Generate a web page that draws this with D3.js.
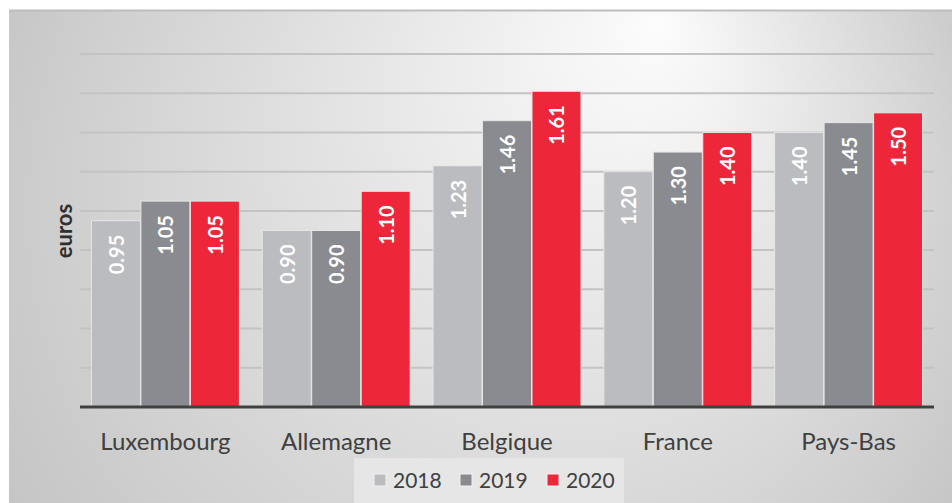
<!DOCTYPE html>
<html>
<head>
<meta charset="utf-8">
<script src="https://cdn.jsdelivr.net/npm/d3@7"></script>
<style>
  body { margin: 0; background: #fff; }
  svg { display: block; }
</style>
</head>
<body>
<svg id="chart" width="952" height="503"></svg>
<script>
// data
const countries = ["Luxembourg", "Allemagne", "Belgique", "France", "Pays-Bas"]
const years = ["2018", "2019", "2020"]
const values2018 = [0.95, 0.90, 1.23, 1.20, 1.40]
const values2019 = [1.05, 0.90, 1.46, 1.30, 1.45]
const values2020 = [1.05, 1.10, 1.61, 1.40, 1.50]
const yTicks = [0, 0.2, 0.4, 0.6, 0.8, 1.0, 1.2, 1.4, 1.6, 1.8]

const colors = {"2018": "#bbbcc0", "2019": "#8a8b90", "2020": "#ee2639"}
const series = {"2018": values2018, "2019": values2019, "2020": values2020}

const width = 952, height = 503
const font = "Lato, 'Open Sans', sans-serif"

let svg = d3.select("#chart")

// panel background, light spot near the top right
let defs = svg.append("defs")
let grad = defs.append("radialGradient")
  .attr("id", "bg")
  .attr("gradientUnits", "userSpaceOnUse")
  .attr("cx", 476).attr("cy", 250).attr("r", 580)
  .attr("fx", 660).attr("fy", 20)
grad.append("stop").attr("offset", "0%").attr("stop-color", "#fcfcfc")
grad.append("stop").attr("offset", "100%").attr("stop-color", "#c2c2c2")

svg.append("rect")
  .attr("x", 9).attr("y", 10)
  .attr("width", width - 9).attr("height", height - 10)
  .attr("fill", "url(#bg)")
svg.append("line")
  .attr("x1", 9).attr("x2", width)
  .attr("y1", 10.5).attr("y2", 10.5)
  .attr("stroke", "#bdbdbd").attr("stroke-width", 2)

// scales
let x0 = d3.scaleBand()
  .domain(countries)
  .range([80, 934])
  .paddingInner(0.128)
  .paddingOuter(0.064)

let x1 = d3.scaleBand()
  .domain(years)
  .range([0, x0.bandwidth()])
  .padding(0.01)

let y = d3.scaleLinear()
  .domain([0, 1.8])
  .range([407, 54])

// gridlines (drawn behind the bars)
svg.append("g")
  .selectAll("line")
  .data(yTicks.slice(1))
  .join("line")
  .attr("x1", 80).attr("x2", 934)
  .attr("y1", d => y(d)).attr("y2", d => y(d))
  .attr("stroke", "#c3c3c3")
  .attr("stroke-width", 2)

// bars
let rows = countries.map((c, i) => ({country: c, vals: years.map(yr => ({year: yr, value: series[yr][i]}))}))

let groups = svg.append("g")
  .selectAll("g")
  .data(rows)
  .join("g")
  .attr("transform", d => "translate(" + x0(d.country) + ",0)")

groups.selectAll("rect")
  .data(d => d.vals)
  .join("rect")
  .attr("x", d => x1(d.year))
  .attr("y", d => y(d.value))
  .attr("width", x1.bandwidth())
  .attr("height", d => y(0) - y(d.value))
  .attr("fill", d => colors[d.year])
  .attr("stroke", "#e6e6e6")
  .attr("stroke-width", 1)

// value labels, rotated, inside the top of each bar
groups.selectAll("text")
  .data(d => d.vals)
  .join("text")
  .attr("transform", d => "translate(" + (x1(d.year) + x1.bandwidth() / 2) + "," + (y(d.value) + 14) + ") rotate(-90)")
  .attr("text-anchor", "end")
  .attr("dominant-baseline", "central")
  .style("font-family", font)
  .style("font-weight", "bold")
  .style("font-size", "20px")
  .style("fill", "#fff")
  .text(d => d.value.toFixed(2))

// baseline
svg.append("line")
  .attr("x1", 80).attr("x2", 934)
  .attr("y1", y(0)).attr("y2", y(0))
  .attr("stroke", "#404040")
  .attr("stroke-width", 3)

// category labels
let xAxis = svg.append("g")
  .attr("transform", "translate(0," + y(0) + ")")
  .call(d3.axisBottom(x0).tickSize(0).tickPadding(0))
xAxis.select(".domain").remove()
xAxis.selectAll(".tick text")
  .attr("dy", null)
  .attr("y", 43)
  .style("font-family", font)
  .style("font-size", "24px")
  .style("fill", "#404040")

// axis title
svg.append("text")
  .attr("transform", "translate(63,231) rotate(-90)")
  .attr("text-anchor", "middle")
  .attr("dominant-baseline", "central")
  .style("font-family", font)
  .style("font-weight", "bold")
  .style("font-size", "22px")
  .style("fill", "#303030")
  .text("euros")

// legend
svg.append("rect")
  .attr("x", 354).attr("y", 458)
  .attr("width", 270).attr("height", 45)
  .attr("fill", "#e6e6e6")

let legendX = {"2018": 374, "2019": 460, "2020": 547}
let legend = svg.append("g")
  .selectAll("g")
  .data(years)
  .join("g")
  .attr("transform", d => "translate(" + legendX[d] + ",474)")
legend.append("rect")
  .attr("width", 12).attr("height", 12)
  .attr("fill", d => colors[d])
  .attr("stroke", "#f2f2f2")
legend.append("text")
  .attr("x", 19).attr("y", 14)
  .style("font-family", font)
  .style("font-size", "21px")
  .style("fill", "#404040")
  .text(d => d)
</script>
</body>
</html>
